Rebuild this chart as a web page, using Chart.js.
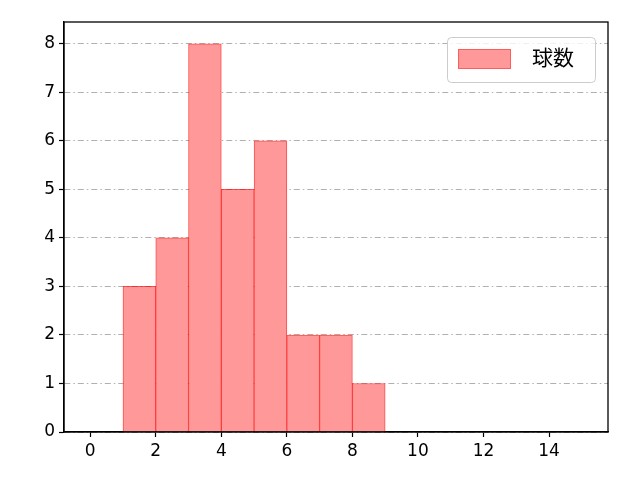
<!DOCTYPE html>
<html>
<head>
<meta charset="utf-8">
<script src="https://cdn.jsdelivr.net/npm/chart.js@4"></script>
<style>
  body { margin: 0; background: #fff; }
  #wrap { width: 640px; height: 480px; }
</style>
</head>
<body>
<div id="wrap"><canvas id="myChart" width="640" height="480"></canvas></div>
<script>
'use strict';

// ******* DATA *******
let binCenters = [1.5, 2.5, 3.5, 4.5, 5.5, 6.5, 7.5, 8.5];
let pitchCounts = [3, 4, 8, 5, 6, 2, 2, 1];
let xTicks = [0, 2, 4, 6, 8, 10, 12, 14];
let yTicks = [0, 1, 2, 3, 4, 5, 6, 7, 8];
let seriesLabel = '球数';

let fontFamily = '"DejaVu Sans", "Noto Sans CJK JP", sans-serif';

let points = [];
for (let i = 0; i < binCenters.length; i++) {
  points.push({ x: binCenters[i], y: pitchCounts[i] });
}

// draws full black frame + legend box inside plot
let framePlugin = {
  id: 'frame',
  afterDraw(chart) {
    let ctx = chart.ctx;
    let a = chart.chartArea;
    ctx.save();
    ctx.setLineDash([]);
    ctx.strokeStyle = '#000';
    ctx.lineWidth = 1.3;
    ctx.strokeRect(a.left, a.top, a.right - a.left, a.bottom - a.top);

    // legend
    let lx = 447, ly = 37, lw = 148, lh = 45;
    ctx.fillStyle = 'rgba(255,255,255,0.8)';
    ctx.strokeStyle = '#cccccc';
    ctx.lineWidth = 1;
    ctx.beginPath();
    ctx.roundRect(lx + 0.5, ly + 0.5, lw, lh, 4);
    ctx.fill();
    ctx.stroke();
    ctx.fillStyle = '#ff9999';
    ctx.fillRect(458, 49, 53, 20);
    ctx.strokeStyle = 'rgba(255,0,0,0.4)';
    ctx.strokeRect(458.5, 49.5, 52, 19);
    ctx.fillStyle = '#000';
    ctx.font = '21px ' + fontFamily;
    ctx.textBaseline = 'middle';
    ctx.fillText(seriesLabel, 532, 60);
    ctx.restore();
  }
};

let canvasElem = document.getElementById('myChart').getContext('2d');

new Chart(canvasElem, {
  type: 'bar',
  data: {
    datasets: [{
      label: seriesLabel,
      data: points,
      backgroundColor: '#ff9999',
      borderColor: 'rgba(255,0,0,0.7)',
      borderWidth: 1,
      barPercentage: 1,
      categoryPercentage: 1,
      grouped: false
    }]
  },
  options: {
    responsive: false,
    animation: false,
    devicePixelRatio: 1,
    layout: { padding: { top: 22, right: 32, left: 0, bottom: 0 } },
    plugins: {
      legend: { display: false },
      tooltip: { enabled: false }
    },
    scales: {
      x: {
        type: 'linear',
        offset: false,
        min: -0.8,
        max: 15.8,
        afterBuildTicks(scale) {
          scale.ticks = xTicks.map(v => ({ value: v }));
        },
        afterFit(scale) { scale.height = 48; },
        grid: {
          offset: false,
          drawOnChartArea: false,
          tickLength: 5,
          tickColor: '#000',
          tickWidth: 1.2
        },
        border: { color: '#000', width: 1.3 },
        ticks: {
          color: '#000',
          padding: 4,
          maxRotation: 0,
          font: { family: fontFamily, size: 17 }
        }
      },
      y: {
        min: 0,
        max: 8.45,
        afterBuildTicks(scale) {
          scale.ticks = yTicks.map(v => ({ value: v }));
        },
        afterFit(scale) { scale.width = 64; },
        grid: {
          color: '#b0b0b0',
          lineWidth: 1,
          tickLength: 5,
          tickColor: '#000',
          tickWidth: 1.2,
          tickBorderDash: []
        },
        border: { color: '#000', width: 1.3, dash: [6, 3, 1.5, 3] },
        ticks: {
          color: '#000',
          padding: 4,
          font: { family: fontFamily, size: 17 }
        }
      }
    }
  },
  plugins: [framePlugin]
});
</script>
</body>
</html>
